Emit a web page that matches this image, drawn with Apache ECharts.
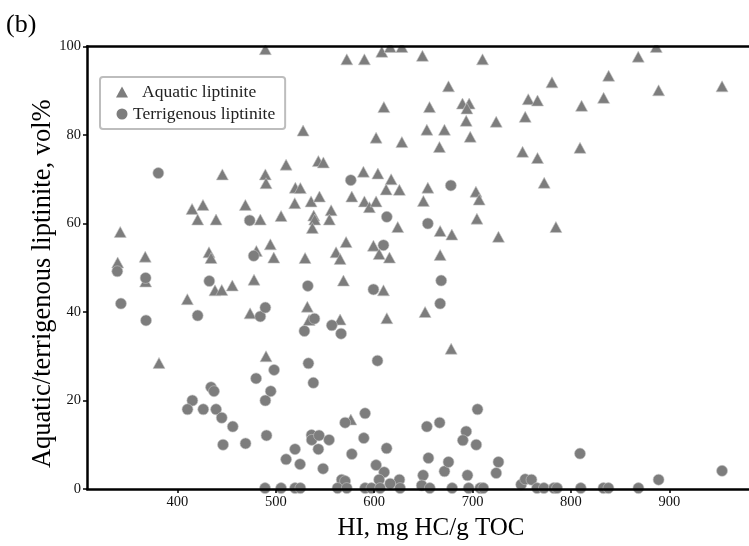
<!DOCTYPE html>
<html><head><meta charset="utf-8">
<script src="https://cdn.jsdelivr.net/npm/echarts@6/dist/echarts.min.js"></script>
<style>html,body{margin:0;padding:0;background:#fff}#c{width:749px;height:546px}</style>
</head><body><div id="c"></div>
<script>
// Aquatic liptinite (triangles)
const aquaticHI = [489.3,527.7,510.4,445.6,489.3,490.0,519.8,524.9,519.2,535.8,414.8,425.9,420.5,439.2,469.0,484.2,505.3,341.8,367.2,432.0,434.1,494.4,480.2,497.9,529.7,339.2,367.6,381.2,410.0,438.1,445.0,455.7,473.8,477.8,490.0,532.0,533.8,538.5,539.5,537.1,544.3,556.2,554.4,561.2,565.3,571.4,568.7,565.3,577.2,590.0,595.1,601.9,599.2,605.0,609.4,612.8,572.1,590.0,607.7,616.2,628.1,649.0,710.1,675.5,609.8,656.2,689.7,696.5,694.2,756.6,753.5,693.5,724.0,653.5,671.4,697.6,601.9,628.1,666.3,750.8,543.2,548.3,589.0,603.7,617.2,612.1,625.6,654.5,650.0,703.4,706.7,704.4,623.9,667.0,678.9,726.3,615.5,667.0,868.4,886.7,780.7,838.3,889.1,953.6,766.0,810.8,833.2,809.2,766.0,772.8,784.7,651.7,678.2,576.2];
const aquaticPct = [99.4,81.0,73.3,71.1,71.1,69.1,68.1,68.0,64.6,65.0,63.3,64.2,60.9,60.9,64.2,60.9,61.7,58.1,52.5,53.5,52.2,55.3,53.8,52.3,52.2,51.2,46.9,28.5,42.9,44.9,45.0,46.0,39.7,47.3,30.0,41.2,38.2,61.8,60.9,59.0,66.1,63.0,60.9,53.5,52.0,55.8,47.1,38.3,66.1,65.0,63.7,65.0,55.0,53.1,44.9,38.6,97.1,97.1,98.8,99.9,99.9,97.9,97.1,91.0,86.3,86.3,87.1,87.1,86.0,88.1,84.1,83.2,83.0,81.2,81.2,79.6,79.4,78.4,77.3,76.2,74.1,73.8,71.7,71.3,70.0,67.7,67.6,68.1,65.1,67.2,65.4,61.1,59.2,58.3,57.5,57.0,52.3,52.9,97.7,99.9,91.9,93.4,90.1,91.0,87.8,86.6,88.4,77.1,74.8,69.2,59.2,40.0,31.7,15.7];
// Terrigenous liptinite (circles)
const terrigenousHI = [380.5,473.4,477.5,576.2,677.9,612.8,654.5,609.4,668.1,667.0,599.2,529.0,532.5,533.1,538.1,539.2,556.9,566.3,603.3,338.8,367.6,342.5,368.0,420.5,432.3,484.2,489.3,479.9,498.2,494.8,489.3,434.1,437.1,415.1,410.2,426.2,439.2,445.0,456.2,446.3,469.2,490.5,519.5,510.4,524.6,536.3,536.5,543.9,543.2,554.1,548.0,570.4,590.7,589.4,577.2,612.6,601.9,610.1,567.0,570.4,605.0,625.6,616.2,649.7,648.3,655.1,671.4,675.5,653.5,666.5,693.5,690.1,703.7,705.0,694.8,724.0,726.3,749.4,753.5,759.9,809.2,889.1,953.6,489.0,505.3,519.5,524.9,562.7,572.1,590.7,597.2,606.0,626.3,656.5,679.2,696.0,707.7,710.9,765.5,772.5,782.6,785.9,810.0,833.0,838.1,868.6];
const terrigenousPct = [71.4,60.7,52.7,69.8,68.6,61.5,60.0,55.1,47.1,41.9,45.1,35.7,45.9,28.4,24.0,38.5,37.0,35.1,29.0,49.2,47.7,41.9,38.1,39.2,47.0,39.0,41.0,25.0,26.9,22.1,20.0,23.0,22.1,20.0,18.0,18.0,18.0,16.1,14.1,10.0,10.3,12.1,9.0,6.7,5.6,12.2,11.1,12.1,9.0,11.1,4.6,15.0,17.1,11.5,7.9,9.2,5.4,3.8,2.1,1.8,2.1,2.1,1.2,3.1,0.8,7.0,4.0,6.1,14.1,15.0,13.0,11.0,10.0,18.0,3.1,3.6,6.1,1.0,2.2,2.1,8.0,2.1,4.1,0.2,0.2,0.2,0.2,0.2,0.2,0.2,0.2,0.2,0.2,0.2,0.2,0.2,0.2,0.2,0.2,0.2,0.2,0.2,0.2,0.2,0.2,0.2];
const xTickValues = [400,500,600,700,800,900];
const seriesNames = ['Aquatic liptinite','Terrigenous liptinite'];

const FONT = "'Liberation Serif','Times New Roman',serif";
const MARK = '#7d7d7d';
const chart = echarts.init(document.getElementById('c'), null, {renderer:'canvas'});
const axisLine = {show:true, lineStyle:{color:'#000', width:2.5}};
chart.setOption({
  animation:false,
  backgroundColor:'#fff',
  title:{text:'(b)', left:6, top:12, padding:0, textStyle:{fontFamily:FONT, fontSize:26, fontWeight:'normal', color:'#000'}},
  grid:{left:87, right:0, top:46.5, bottom:51.5, containLabel:false},
  legend:{
    orient:'vertical', left:100, top:77,
    padding:[6,10,6,16], itemGap:4, itemWidth:12, itemHeight:11,
    borderColor:'#bdbdbd', borderWidth:2, borderRadius:3,
    data:[{name:seriesNames[0], icon:'triangle'},{name:seriesNames[1], icon:'circle'}],
    formatter:n => n===seriesNames[0] ? '{a|'+n+'}' : n,
    textStyle:{fontFamily:FONT, fontSize:17.5, color:'#222', lineHeight:17,
      rich:{a:{fontFamily:FONT, fontSize:17.5, color:'#222', lineHeight:17, padding:[0,0,0,9]}}},
    itemStyle:{color:MARK, borderWidth:0}
  },
  graphic:[
    {type:'rect', z:5, silent:true, shape:{x:88, y:28, width:661, height:17.3}, style:{fill:'#fff'}},
    {type:'rect', z:5, silent:true, shape:{x:88, y:495.8, width:661, height:9}, style:{fill:'#fff'}}
  ],
  xAxis:[{
    type:'value', min:308, max:981, position:'bottom', z:10,
    name:'HI, mg HC/g TOC', nameLocation:'middle', nameGap:27, nameMoveOverlap:false,
    nameTextStyle:{fontFamily:FONT, fontSize:25, color:'#000', padding:[0,0,0,26]},
    axisLine:axisLine,
    axisTick:{show:true, length:4, customValues:xTickValues, lineStyle:{color:'#000', width:1.5}},
    axisLabel:{customValues:xTickValues, margin:6, fontFamily:FONT, fontSize:14.5, color:'#111'},
    splitLine:{show:false}
  },{
    type:'value', min:308, max:981, position:'top', z:10,
    axisLine:axisLine, axisTick:{show:false}, axisLabel:{show:false}, splitLine:{show:false}
  }],
  yAxis:{
    type:'value', min:0, max:100, interval:20, z:10,
    name:'Aquatic/terrigenous liptinite, vol%', nameLocation:'middle', nameGap:30, nameMoveOverlap:false,
    nameTextStyle:{fontFamily:FONT, fontSize:26.5, color:'#000', padding:[0,32,0,0]},
    axisLine:axisLine,
    axisTick:{show:true, length:4, lineStyle:{color:'#000', width:1.5}},
    axisLabel:{margin:6, fontFamily:FONT, fontSize:14.5, color:'#111'},
    splitLine:{show:false}
  },
  series:[
    {type:'scatter', name:seriesNames[0], symbol:'triangle', symbolSize:[12,11], z:2,
     data:aquaticHI.map((x,i)=>[x, aquaticPct[i]]),
     itemStyle:{color:MARK, borderColor:'#c4c4c4', borderWidth:0.6, opacity:1},
     emphasis:{disabled:true}},
    {type:'scatter', name:seriesNames[1], symbol:'circle', symbolSize:11, z:3,
     data:terrigenousHI.map((x,i)=>[x, terrigenousPct[i]]),
     itemStyle:{color:MARK, borderColor:'#c4c4c4', borderWidth:0.6, opacity:1},
     emphasis:{disabled:true}}
  ]
});
</script></body></html>
